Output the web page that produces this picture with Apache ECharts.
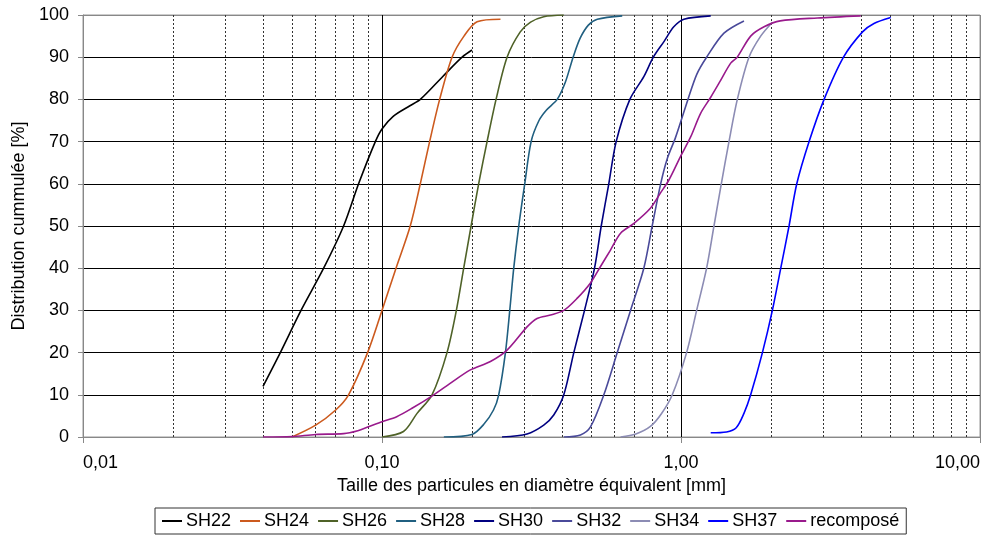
<!DOCTYPE html>
<html>
<head>
<meta charset="utf-8">
<script src="https://cdn.jsdelivr.net/npm/echarts@6/dist/echarts.min.js"></script>
<style>
html,body{margin:0;padding:0;background:#fff;}
#chart{width:1007px;height:536px;}
</style>
</head>
<body>
<div id="chart"></div>
<script>
// ---- data (size in mm, cumulative %) ----
const seriesNames = ['SH22','SH24','SH26','SH28','SH30','SH32','SH34','SH37','recomposé'];
const seriesColors = ['#000000','#cc5a1e','#4f6228','#205f80','#000080','#4a4a9a','#8c8cb4','#0000ff','#991a8c'];

const sh22_d = [0.04, 0.0457, 0.0536, 0.0638, 0.0744, 0.0835, 0.095, 0.1, 0.109, 0.124, 0.1343, 0.16, 0.1853, 0.2];
const sh22_v = [12, 20, 30, 40, 50, 60, 70, 73, 76, 78.5, 80, 85.5, 90, 91.7];

const sh24_d = [0.05, 0.06, 0.07, 0.0773, 0.0895, 0.1, 0.1114, 0.1243, 0.1343, 0.1443, 0.1559, 0.1715, 0.188, 0.208, 0.249];
const sh24_v = [0, 2.8, 6.4, 10, 20, 30, 40, 50, 60, 70, 80, 90, 95, 98.4, 99];

const sh26_d = [0.1, 0.118, 0.131, 0.147, 0.165, 0.1773, 0.1876, 0.1986, 0.2105, 0.2246, 0.2407, 0.262, 0.29, 0.314, 0.3475, 0.4055];
const sh26_v = [0, 1.3, 5.6, 10, 20, 30, 40, 50, 60, 70, 80, 90, 96, 98.3, 99.6, 100];

const sh28_d = [0.161, 0.2, 0.219, 0.236, 0.2457, 0.2587, 0.2675, 0.2758, 0.2867, 0.3002, 0.3153, 0.335, 0.355, 0.3854, 0.41, 0.4357, 0.46, 0.49, 0.525, 0.636];
const sh28_v = [0, 0.6, 3, 6.4, 10, 20, 30, 40, 50, 60, 70, 75, 77.5, 80, 84, 90, 94.5, 97.6, 99, 99.8];

const sh30_d = [0.252, 0.3055, 0.3475, 0.3753, 0.4055, 0.438, 0.4757, 0.5138, 0.541, 0.5735, 0.607, 0.6745, 0.751, 0.808, 0.877, 0.946, 1.023, 1.257];
const sh30_v = [0, 0.7, 2.8, 5.2, 10, 20, 30, 40, 50, 60, 70, 80, 85.4, 90, 93.7, 97.2, 99, 99.8];

const sh32_d = [0.4055, 0.461, 0.498, 0.552, 0.612, 0.678, 0.751, 0.801, 0.855, 0.9, 0.959, 1.055, 1.13, 1.218, 1.392, 1.624];
const sh32_v = [0, 0.5, 2.4, 10, 20, 30, 40, 50, 60, 66, 71, 80, 86, 90, 95.7, 98.6];

const sh34_d = [0.628, 0.706, 0.79, 0.86, 0.935, 1.044, 1.128, 1.218, 1.289, 1.364, 1.447, 1.543, 1.688, 1.847, 2.021];
const sh34_v = [0, 0.7, 2.5, 5.5, 10, 20, 30, 40, 50, 60, 70, 80, 90, 95, 98.3];

const sh37_d = [1.257, 1.42, 1.53, 1.624, 1.71, 1.872, 2.021, 2.156, 2.298, 2.439, 2.682, 3.01, 3.495, 4.046, 4.42, 5.03];
const sh37_v = [1, 1.2, 2.2, 5.6, 10, 20, 30, 40, 50, 60, 70, 80, 90, 96, 98, 99.4];

const rec_d = [0.04, 0.05, 0.06, 0.0744, 0.083, 0.09, 0.1, 0.112, 0.126, 0.149, 0.169, 0.1975, 0.2305, 0.262, 0.3055, 0.33, 0.366, 0.4055, 0.45, 0.498, 0.538, 0.581, 0.628, 0.696, 0.79, 0.853, 0.911, 0.995, 1.077, 1.163, 1.257, 1.357, 1.466, 1.542, 1.71, 1.896, 2.147, 2.86, 3.99];
const rec_v = [0, 0.1, 0.6, 0.8, 1.5, 2.4, 3.6, 4.8, 6.8, 10, 12.7, 15.9, 17.9, 20.6, 26.1, 28.1, 28.9, 30, 32.9, 36.5, 40.4, 44.3, 48.3, 50.6, 54.2, 57.8, 60.9, 66.4, 71.1, 76.7, 80.5, 84.5, 88.6, 90, 95, 97.2, 98.6, 99.3, 99.8];

const minorGrid = [0.02,0.03,0.04,0.05,0.06,0.07,0.08,0.09,0.2,0.3,0.4,0.5,0.6,0.7,0.8,0.9,2,3,4,5,6,7,8,9];

const allD = [sh22_d, sh24_d, sh26_d, sh28_d, sh30_d, sh32_d, sh34_d, sh37_d, rec_d];
const allV = [sh22_v, sh24_v, sh26_v, sh28_v, sh30_v, sh32_v, sh34_v, sh37_v, rec_v];

const FONT = 'Liberation Sans, Arial, sans-serif';
const FS = 18;
const chart = echarts.init(document.getElementById('chart'), null, {renderer:'canvas'});

const series = seriesNames.map((name, i) => ({
  name: name,
  type: 'line',
  data: allD[i].map((d, k) => [d, allV[i][k]]),
  smooth: 0.3,
  showSymbol: false,
  symbol: 'none',
  lineStyle: {color: seriesColors[i], width: 1.6},
  itemStyle: {color: seriesColors[i]},
  z: 5
}));

series.unshift({
  name: '_grid',
  type: 'line',
  data: [],
  silent: true,
  markLine: {
    silent: true,
    symbol: ['none','none'],
    label: {show: false},
    animation: false,
    lineStyle: {type: [2, 2], color: '#333', width: 1},
    data: minorGrid.map(v => ({xAxis: v}))
  },
  z: 1
});

const yColors = ['#888','#000','#000','#000','#000','#000','#000','#000','#000','#000','#888'];

chart.setOption({
  animation: false,
  backgroundColor: '#fff',
  grid: {left: 83, right: 27, top: 15, bottom: 99, containLabel: false,
         show: true, borderColor: '#999', borderWidth: 1},
  legend: {
    data: seriesNames,
    bottom: 2,
    left: 155,
    icon: 'rect',
    itemWidth: 20,
    itemHeight: 2,
    itemGap: 9,
    padding: [4, 7, 4, 7],
    borderColor: '#333',
    borderWidth: 1,
    textStyle: {fontFamily: FONT, fontSize: FS, color: '#000', padding: [0, 0, 0, -1]}
  },
  xAxis: {
    type: 'log',
    logBase: 10,
    min: 0.01,
    max: 10,
    name: 'Taille des particules en diamètre équivalent [mm]',
    nameLocation: 'middle',
    nameGap: 34,
    nameTextStyle: {fontFamily: FONT, fontSize: FS, color: '#000'},
    axisLine: {show: true, lineStyle: {color: '#888', width: 1}},
    axisTick: {show: true, inside: false, length: 6, lineStyle: {color: '#888'}},
    axisLabel: {
      fontFamily: FONT, fontSize: FS, color: '#000', margin: 17,
      alignMinLabel: 'left', alignMaxLabel: 'right',
      formatter: v => v.toFixed(2).replace('.', ',')
    },
    splitLine: {show: true, lineStyle: {color: ['#888','#000','#000','#888'], width: 1}},
    minorTick: {show: false}
  },
  yAxis: {
    type: 'value',
    min: 0,
    max: 100,
    interval: 10,
    name: 'Distribution cummulée [%]',
    nameLocation: 'middle',
    nameGap: 54,
    nameRotate: 90,
    nameTextStyle: {fontFamily: FONT, fontSize: FS, color: '#000'},
    axisLine: {show: true, lineStyle: {color: '#888', width: 1}},
    axisTick: {show: true, inside: false, length: 5, lineStyle: {color: '#888'}},
    axisLabel: {fontFamily: FONT, fontSize: FS, color: '#000', margin: 14},
    splitLine: {show: true, lineStyle: {color: yColors, width: 1}}
  },
  series: series
});
</script>
</body>
</html>
